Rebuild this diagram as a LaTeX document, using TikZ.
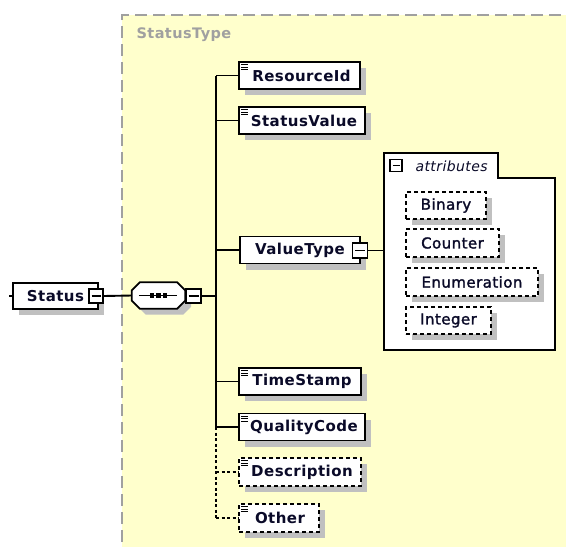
\documentclass[tikz,border=0pt]{standalone}
\usepackage{fontspec}
\setmainfont{DejaVu Sans}
\newfontfamily\diagfont[LetterSpace=3]{DejaVu Sans}
\newfontfamily\attrfont[LetterSpace=3,FakeBold=1.6]{DejaVu Sans}
\usetikzlibrary{shadows}

\definecolor{typebg}{RGB}{255,255,204}
\definecolor{typeedge}{RGB}{160,160,160}
\definecolor{shade}{RGB}{192,192,192}
\definecolor{ink}{RGB}{10,10,40}

% three-line marker in the top-left corner of an element box
\newcommand\elemicon[1]{%
  \foreach \k in {0,2.5,5}
    {\draw[line width=0.9pt] ([shift={(3,3.5+\k)}]#1.north west) -- ++(7,0);}}

\begin{document}
\begin{tikzpicture}[x=1pt,y=-1pt,
  conn/.style={line width=1.9pt, draw=black},
  optconn/.style={conn, line width=1.3pt, dash pattern=on 3pt off 2.5pt},
  shadowed/.style={drop shadow={shadow xshift=6pt, shadow yshift=-6pt, fill=shade, opacity=1}},
  elem/.style={shadowed, draw=black, line width=1.7pt, fill=white,
    minimum height=27pt, inner sep=0pt, text=ink,
    font=\diagfont\bfseries\fontsize{15}{17}\selectfont},
  optelem/.style={elem, line width=1.3pt, dash pattern=on 4pt off 3pt},
  attrbox/.style={shadowed, draw=black, line width=1.3pt, dash pattern=on 4pt off 3pt,
    fill=white, minimum height=27pt, inner sep=0pt, text=ink,
    font=\attrfont\fontsize{15}{17}\selectfont},
  minusbox/.style={draw=black, line width=1.2pt, fill=white, minimum size=14pt, inner sep=0pt,
    path picture={\draw[line width=1.1pt] ([xshift=2.5pt]path picture bounding box.west)
      -- ([xshift=-2.5pt]path picture bounding box.east);}},
  seqfill/.style={fill=shade},
  seqdraw/.style={draw=black, fill=white, line width=1.7pt},
]
\useasboundingbox (0,0) rectangle (566,547);
\fill[white] (0,0) rectangle (566,547);

% complex type area
\begin{scope}
  \clip (0,0) rectangle (566,547);
  \fill[typebg] (122,15) rectangle (580,560);
  \draw[typeedge, line width=1.4pt, dash pattern=on 12pt off 6pt] (122,560) -- (122,15) -- (580,15);
\end{scope}
\node[anchor=west, text=typeedge, font=\diagfont\bfseries\fontsize{14.5}{16}\selectfont] (title) at (133,35) {StatusType};

% root element
\coordinate (stub) at (9,296);
\node[elem, minimum width=85pt, minimum height=26pt] (status) at (55.5,296) {Status\hspace{8pt}};
\node[minusbox] (smin) at (96,296) {};
\draw[conn] (stub) -- (status.west);

% sequence compositor
\node[minimum width=53pt, minimum height=26pt, inner sep=0pt] (seq) at (158.5,295.5) {};
\foreach \dx/\dy/\sty in {6/6/seqfill, 0/0/seqdraw}
  {\path[\sty] ([shift={(8+\dx,\dy)}]seq.north west) -- ([shift={(-8+\dx,\dy)}]seq.north east)
    -- ([shift={(\dx,8+\dy)}]seq.north east) -- ([shift={(\dx,-8+\dy)}]seq.south east)
    -- ([shift={(-8+\dx,\dy)}]seq.south east) -- ([shift={(8+\dx,\dy)}]seq.south west)
    -- ([shift={(\dx,-8+\dy)}]seq.south west) -- ([shift={(\dx,8+\dy)}]seq.north west) -- cycle;}
\draw[line width=1.2pt] ([xshift=7pt]seq.west) -- ([xshift=-8pt]seq.east);
\foreach \d in {-6.5,0,6.5}
  {\fill ([xshift=\d pt]seq.center) +(-2.4,-2.2) rectangle +(2.4,2.2);}
\node[minusbox, minimum width=15pt] (seqmin) at (193.5,296) {};
\draw[conn] (smin.east) -- (seq.west);

% child elements
\node[elem, minimum width=121pt] (rid) at (299.5,75.5) {\hspace{4pt}ResourceId};
\node[elem, minimum width=126pt] (sval) at (302,120.5) {\hspace{4pt}StatusValue};
\node[elem, minimum width=120pt] (vtype) at (300,250) {ValueType\hspace{6pt}};
\node[minusbox, minimum size=15pt] (vmin) at (360,250.5) {};
\node[elem, minimum width=122pt] (tstamp) at (300,381.5) {\hspace{4pt}TimeStamp};
\node[elem, minimum width=126pt] (qcode) at (302,427) {\hspace{4pt}QualityCode};
\node[optelem, minimum width=122pt, minimum height=28pt] (descr) at (300,472) {\hspace{4pt}Description};
\node[optelem, minimum width=80pt, minimum height=28pt] (other) at (279,518) {\hspace{2pt}Other};
\foreach \n in {rid,sval,tstamp,qcode,descr,other} {\elemicon{\n}}

% bus of the sequence
\coordinate (bustop) at (216,75.5);
\coordinate (busq) at (216,427);
\coordinate (busend) at (216,518);
\coordinate (busmid) at (216,296);
\draw[conn] (bustop) -- (busq);
\draw[optconn] (busq) -- (busend);
\draw[conn] (seqmin.east) -- (busmid);
\foreach \n in {rid,sval,vtype,tstamp,qcode}
  {\draw[conn] (\n.west -| bustop) -- (\n.west);}
\foreach \n in {descr,other}
  {\draw[optconn] (\n.west -| bustop) -- (\n.west);}

% attribute group
\draw[black, fill=white, line width=1.4pt]
  (384,153) -- (498,153) -- (498,178) -- (555,178) -- (555,350) -- (384,350) -- cycle;
\coordinate (attrin) at (384,250.5);
\draw[conn] (vmin.east) -- (attrin);
\node[draw=black, line width=1.1pt, fill=white, minimum size=12pt, inner sep=0pt,
  path picture={\draw[line width=1.1pt] ([xshift=2.5pt]path picture bounding box.west)
      -- ([xshift=-2.5pt]path picture bounding box.east);}] (amin) at (396,165.5) {};
\node[anchor=west, text=ink, font=\diagfont\itshape\fontsize{14}{16}\selectfont] (alabel) at (412,166) {attributes};
\node[attrbox, minimum width=80pt] (abin) at (446,205.5) {Binary};
\node[attrbox, minimum width=93pt, minimum height=28pt] (acnt) at (452.5,243) {Counter};
\node[attrbox, minimum width=132pt, minimum height=28pt] (aenum) at (472,282) {Enumeration};
\node[attrbox, minimum width=85pt] (aint) at (448.5,320.5) {Integer};
\end{tikzpicture}
\end{document}
